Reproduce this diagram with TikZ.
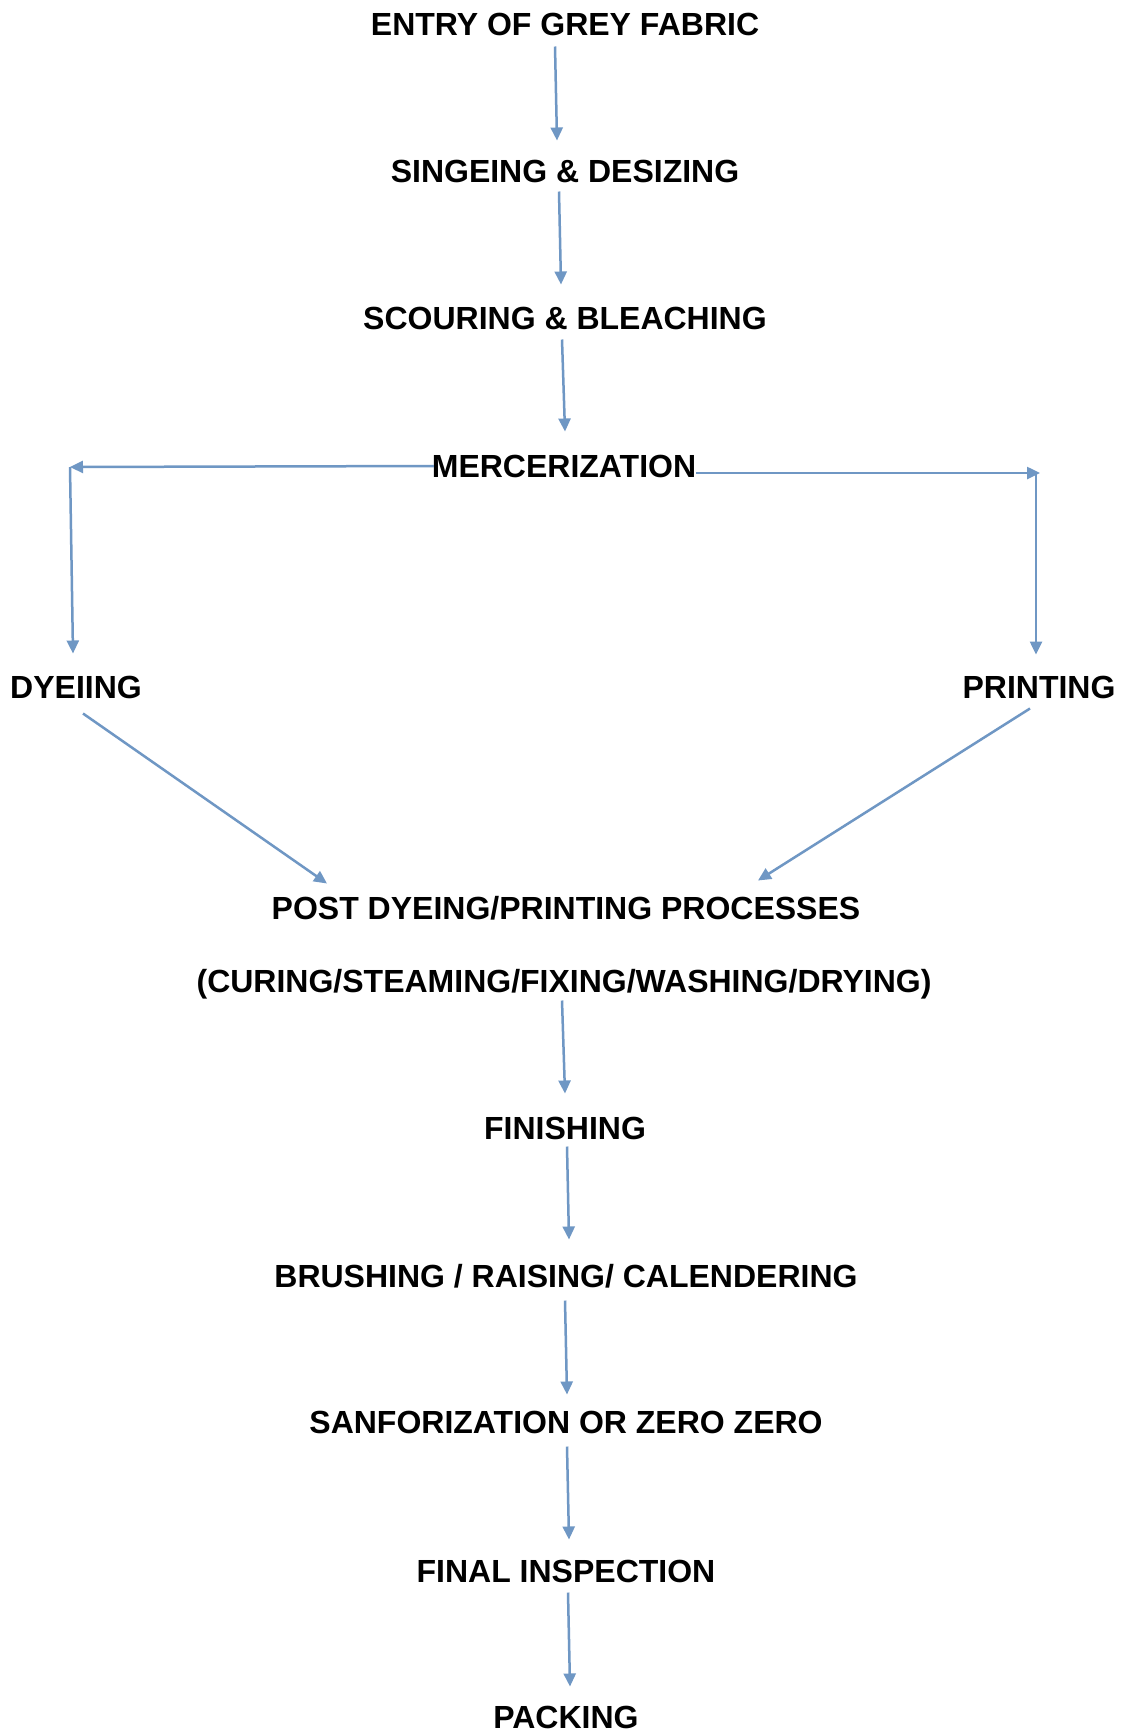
\documentclass[tikz,border=0pt]{standalone}
\usepackage{fontspec}
\setmainfont{Liberation Sans}
\usetikzlibrary{arrows.meta}
\definecolor{flowblue}{RGB}{111,151,196}
\begin{document}
\begin{tikzpicture}[x=1pt,y=-1pt,
  lbl/.style={inner sep=0pt,outer sep=0pt,text height=23pt,text depth=0pt,
    font=\fontsize{32pt}{36pt}\selectfont\bfseries},
  arr/.style={draw=flowblue,line width=2.5pt,-{Triangle[length=13pt,width=12pt]}},
  seg/.style={draw=flowblue,line width=2.5pt}]
\useasboundingbox (0,0) rectangle (1126,1733);
\fill[white] (0,0) rectangle (1126,1733);

\node[lbl] (entry) at (565,24) {ENTRY OF GREY FABRIC};
\node[lbl] (sing)  at (565,171) {SINGEING \& DESIZING};
\node[lbl] (scour) at (565,318) {SCOURING \& BLEACHING};
\node[lbl] (merc)  at (564,466) {MERCERIZATION};
\node[lbl] (dye)   at (76,687) {DYEIING};
\node[lbl] (print) at (1039,687) {PRINTING};
\node[lbl] (post)  at (566,908) {POST DYEING/PRINTING PROCESSES};
\node[lbl] (cur)   at (564,981) {(CURING/STEAMING/FIXING/WASHING/DRYING)};
\node[lbl] (fin)   at (565,1128) {FINISHING};
\node[lbl] (brush) at (566,1276) {BRUSHING / RAISING/ CALENDERING};
\node[lbl] (sanf)  at (566,1422) {SANFORIZATION OR ZERO ZERO};
\node[lbl] (final) at (566,1571) {FINAL INSPECTION};
\node[lbl] (pack)  at (566,1717) {PACKING};

\coordinate (lc) at (70,467);
\coordinate (rc) at (1040,473);

\draw[arr] ([shift={(-10pt,-11pt)}]entry.south) -- ([shift={(-8pt,19pt)}]sing.north);
\draw[arr] ([shift={(-6pt,-9pt)}]sing.south) -- ([shift={(-4pt,22pt)}]scour.north);
\draw[arr] ([shift={(-3pt,-10pt)}]scour.south) -- ([shift={(1pt,23pt)}]merc.north);

\draw[arr] ([xshift=2pt]merc.west) -- (lc);
\draw[arr] (lc) -- ([shift={(-3pt,22pt)}]dye.north);
\draw[arr] ([yshift=-7pt]merc.east) -- (rc);
\draw[arr] ([xshift=-4pt]rc) -- ([shift={(-3pt,21pt)}]print.north);

\draw[arr] ([shift={(7pt,-15pt)}]dye.south) -- ([shift={(-239pt,13pt)}]post.north);
\draw[arr] ([shift={(-9pt,-10pt)}]print.south) -- ([shift={(192pt,16pt)}]post.north);

\draw[arr] ([shift={(-2pt,-8pt)}]cur.south) -- ([shift={(0pt,23pt)}]fin.north);
\draw[arr] ([shift={(2pt,-7pt)}]fin.south) -- ([shift={(3pt,25pt)}]brush.north);
\draw[arr] ([shift={(-1pt,-13pt)}]brush.south) -- ([shift={(1pt,16pt)}]sanf.north);
\draw[arr] ([shift={(1pt,-13pt)}]sanf.south) -- ([shift={(3pt,20pt)}]final.north);
\draw[arr] ([shift={(2pt,-10pt)}]final.south) -- ([shift={(4pt,19pt)}]pack.north);
\end{tikzpicture}
\end{document}
